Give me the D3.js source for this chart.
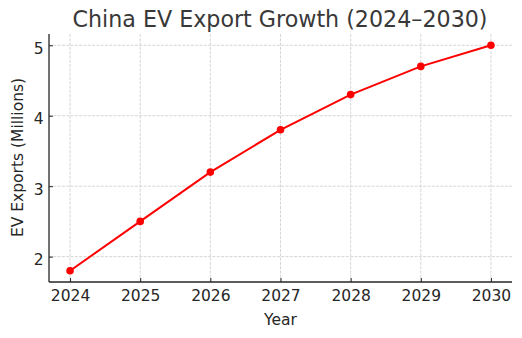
<!DOCTYPE html>
<html><head><meta charset="utf-8">
<script src="https://cdn.jsdelivr.net/npm/d3@7"></script>
<style>body{margin:0;background:#fff}svg{display:block}text{font-family:"DejaVu Sans",sans-serif}</style>
</head><body><svg id="c" width="522" height="338"></svg>
<script>
const years = [2024, 2025, 2026, 2027, 2028, 2029, 2030];
const exportsM = [1.8, 2.5, 3.2, 3.8, 4.3, 4.7, 5.0];
const yTicks = [2, 3, 4, 5];
const titleText = "China EV Export Growth (2024–2030)";
const xLabel = "Year";
const yLabel = "EV Exports (Millions)";

const svg = d3.select("#c");
const L = 49, R = 512, T = 34, B = 282;
const x = d3.scaleLinear().domain([2023.7, 2030.3]).range([L, R]);
const y = d3.scaleLinear().domain([1.64, 5.16]).range([B, T]);

// grid
svg.append("g").selectAll("line").data(years).join("line")
  .attr("x1", d => x(d)).attr("x2", d => x(d)).attr("y1", T).attr("y2", B)
  .attr("stroke", "#cccccc").attr("stroke-width", 0.8).attr("stroke-dasharray", "3,1.3");
svg.append("g").selectAll("line").data(yTicks).join("line")
  .attr("x1", L).attr("x2", R).attr("y1", d => y(d)).attr("y2", d => y(d))
  .attr("stroke", "#cccccc").attr("stroke-width", 0.8).attr("stroke-dasharray", "3,1.3");

// axes
const xAxis = d3.axisBottom(x).tickValues(years).tickFormat(d3.format("d")).tickSizeInner(-4).tickSizeOuter(0).tickPadding(7.5);
const gx = svg.append("g").attr("transform", `translate(0,${B})`).call(xAxis);
const yAxis = d3.axisLeft(y).tickValues(yTicks).tickFormat(d3.format("d")).tickSizeInner(-4).tickSizeOuter(0).tickPadding(5.5);
const gy = svg.append("g").attr("transform", `translate(${L},0)`).call(yAxis);
[gx, gy].forEach(g => {
  g.select(".domain").attr("stroke", "#262626").attr("stroke-width", 1.3);
  g.selectAll(".tick line").attr("stroke", "#262626").attr("stroke-width", 1);
  g.selectAll(".tick text").attr("font-size", 15.5).attr("fill", "#262626").style("font-family", "DejaVu Sans");
});
gy.selectAll(".tick text").attr("dy", "0.52em");
gx.select(".domain").attr("d", `M${L},0H${R}`);
gy.select(".domain").attr("d", `M0,${T}V${B}`);

// line
const line = d3.line().x((d, i) => x(years[i])).y(d => y(d));
svg.append("path").datum(exportsM).attr("d", line).attr("fill", "none")
  .attr("stroke", "#ff0000").attr("stroke-width", 2);
svg.append("g").selectAll("circle").data(exportsM).join("circle")
  .attr("cx", (d, i) => x(years[i])).attr("cy", d => y(d)).attr("r", 3.8).attr("fill", "#ff0000");

// labels
svg.append("text").attr("x", 280).attr("y", 27).attr("text-anchor", "middle")
  .attr("font-size", 22.2).style("fill", "#383838").text(titleText);
svg.append("text").attr("x", 280.5).attr("y", 325).attr("text-anchor", "middle")
  .attr("font-size", 15.5).style("fill", "#262626").text(xLabel);
svg.append("text").attr("transform", `translate(23,157.5) rotate(-90)`).attr("text-anchor", "middle")
  .attr("font-size", 15.5).style("fill", "#262626").text(yLabel);
</script></body></html>
